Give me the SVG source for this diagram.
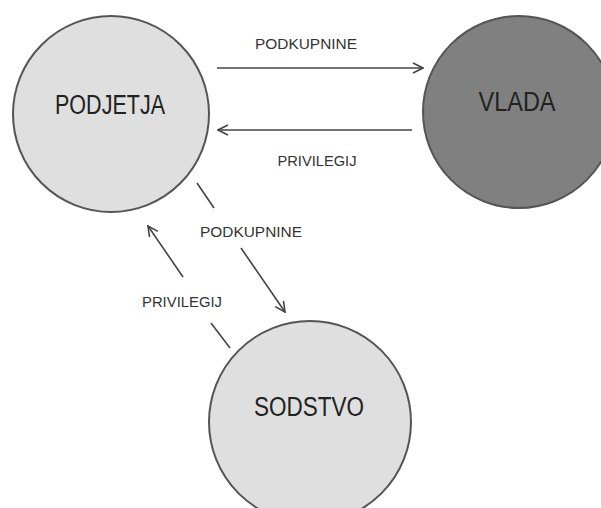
<svg xmlns="http://www.w3.org/2000/svg" width="601" height="508" viewBox="0 0 601 508">
<style>
.light{fill:#dfdfdf;stroke:#555;stroke-width:2}
.dark{fill:#808080;stroke:#555;stroke-width:2}
.big{font-family:"Liberation Sans",Arial,sans-serif;font-size:27px;fill:#222;text-anchor:middle}
.lbl{font-family:"Liberation Sans",Arial,sans-serif;font-size:15px;fill:#333;text-anchor:middle}
.conn line{stroke:#444;stroke-width:1.6;fill:none}
</style>
<defs>
<marker id="arr" viewBox="0 0 12 12" refX="11" refY="6" markerWidth="12" markerHeight="12" markerUnits="userSpaceOnUse" orient="auto">
<path d="M1,1 L11,6 L1,11" fill="none" stroke="#444" stroke-width="1.6"/>
</marker>
</defs>
<rect width="601" height="508" fill="#fff"/>
<g id="podjetja">
<circle class="light" cx="111" cy="114" r="98"/>
<text class="big" x="110" y="114" textLength="110" lengthAdjust="spacingAndGlyphs">PODJETJA</text>
</g>
<g id="vlada">
<circle class="dark" cx="519" cy="112" r="96"/>
<text class="big" x="517" y="111" textLength="77" lengthAdjust="spacingAndGlyphs">VLADA</text>
</g>
<g id="sodstvo">
<circle class="light" cx="310" cy="422" r="101"/>
<text class="big" x="309" y="416" textLength="110" lengthAdjust="spacingAndGlyphs">SODSTVO</text>
</g>
<g id="connectors" class="conn">
<line x1="217" y1="68" x2="423" y2="68" marker-end="url(#arr)"/>
<line x1="412" y1="130" x2="218" y2="130" marker-end="url(#arr)"/>
<line x1="197" y1="183" x2="214" y2="208"/>
<line x1="241" y1="248" x2="285" y2="312" marker-end="url(#arr)"/>
<line x1="230" y1="348" x2="211" y2="323"/>
<line x1="183" y1="277" x2="148" y2="226" marker-end="url(#arr)"/>
</g>
<g id="labels">
<text class="lbl" x="306" y="49" textLength="102" lengthAdjust="spacingAndGlyphs">PODKUPNINE</text>
<text class="lbl" x="317" y="166" textLength="79" lengthAdjust="spacingAndGlyphs">PRIVILEGIJ</text>
<text class="lbl" x="251" y="237" textLength="102" lengthAdjust="spacingAndGlyphs">PODKUPNINE</text>
<text class="lbl" x="182" y="307" textLength="80" lengthAdjust="spacingAndGlyphs">PRIVILEGIJ</text>
</g>
</svg>
